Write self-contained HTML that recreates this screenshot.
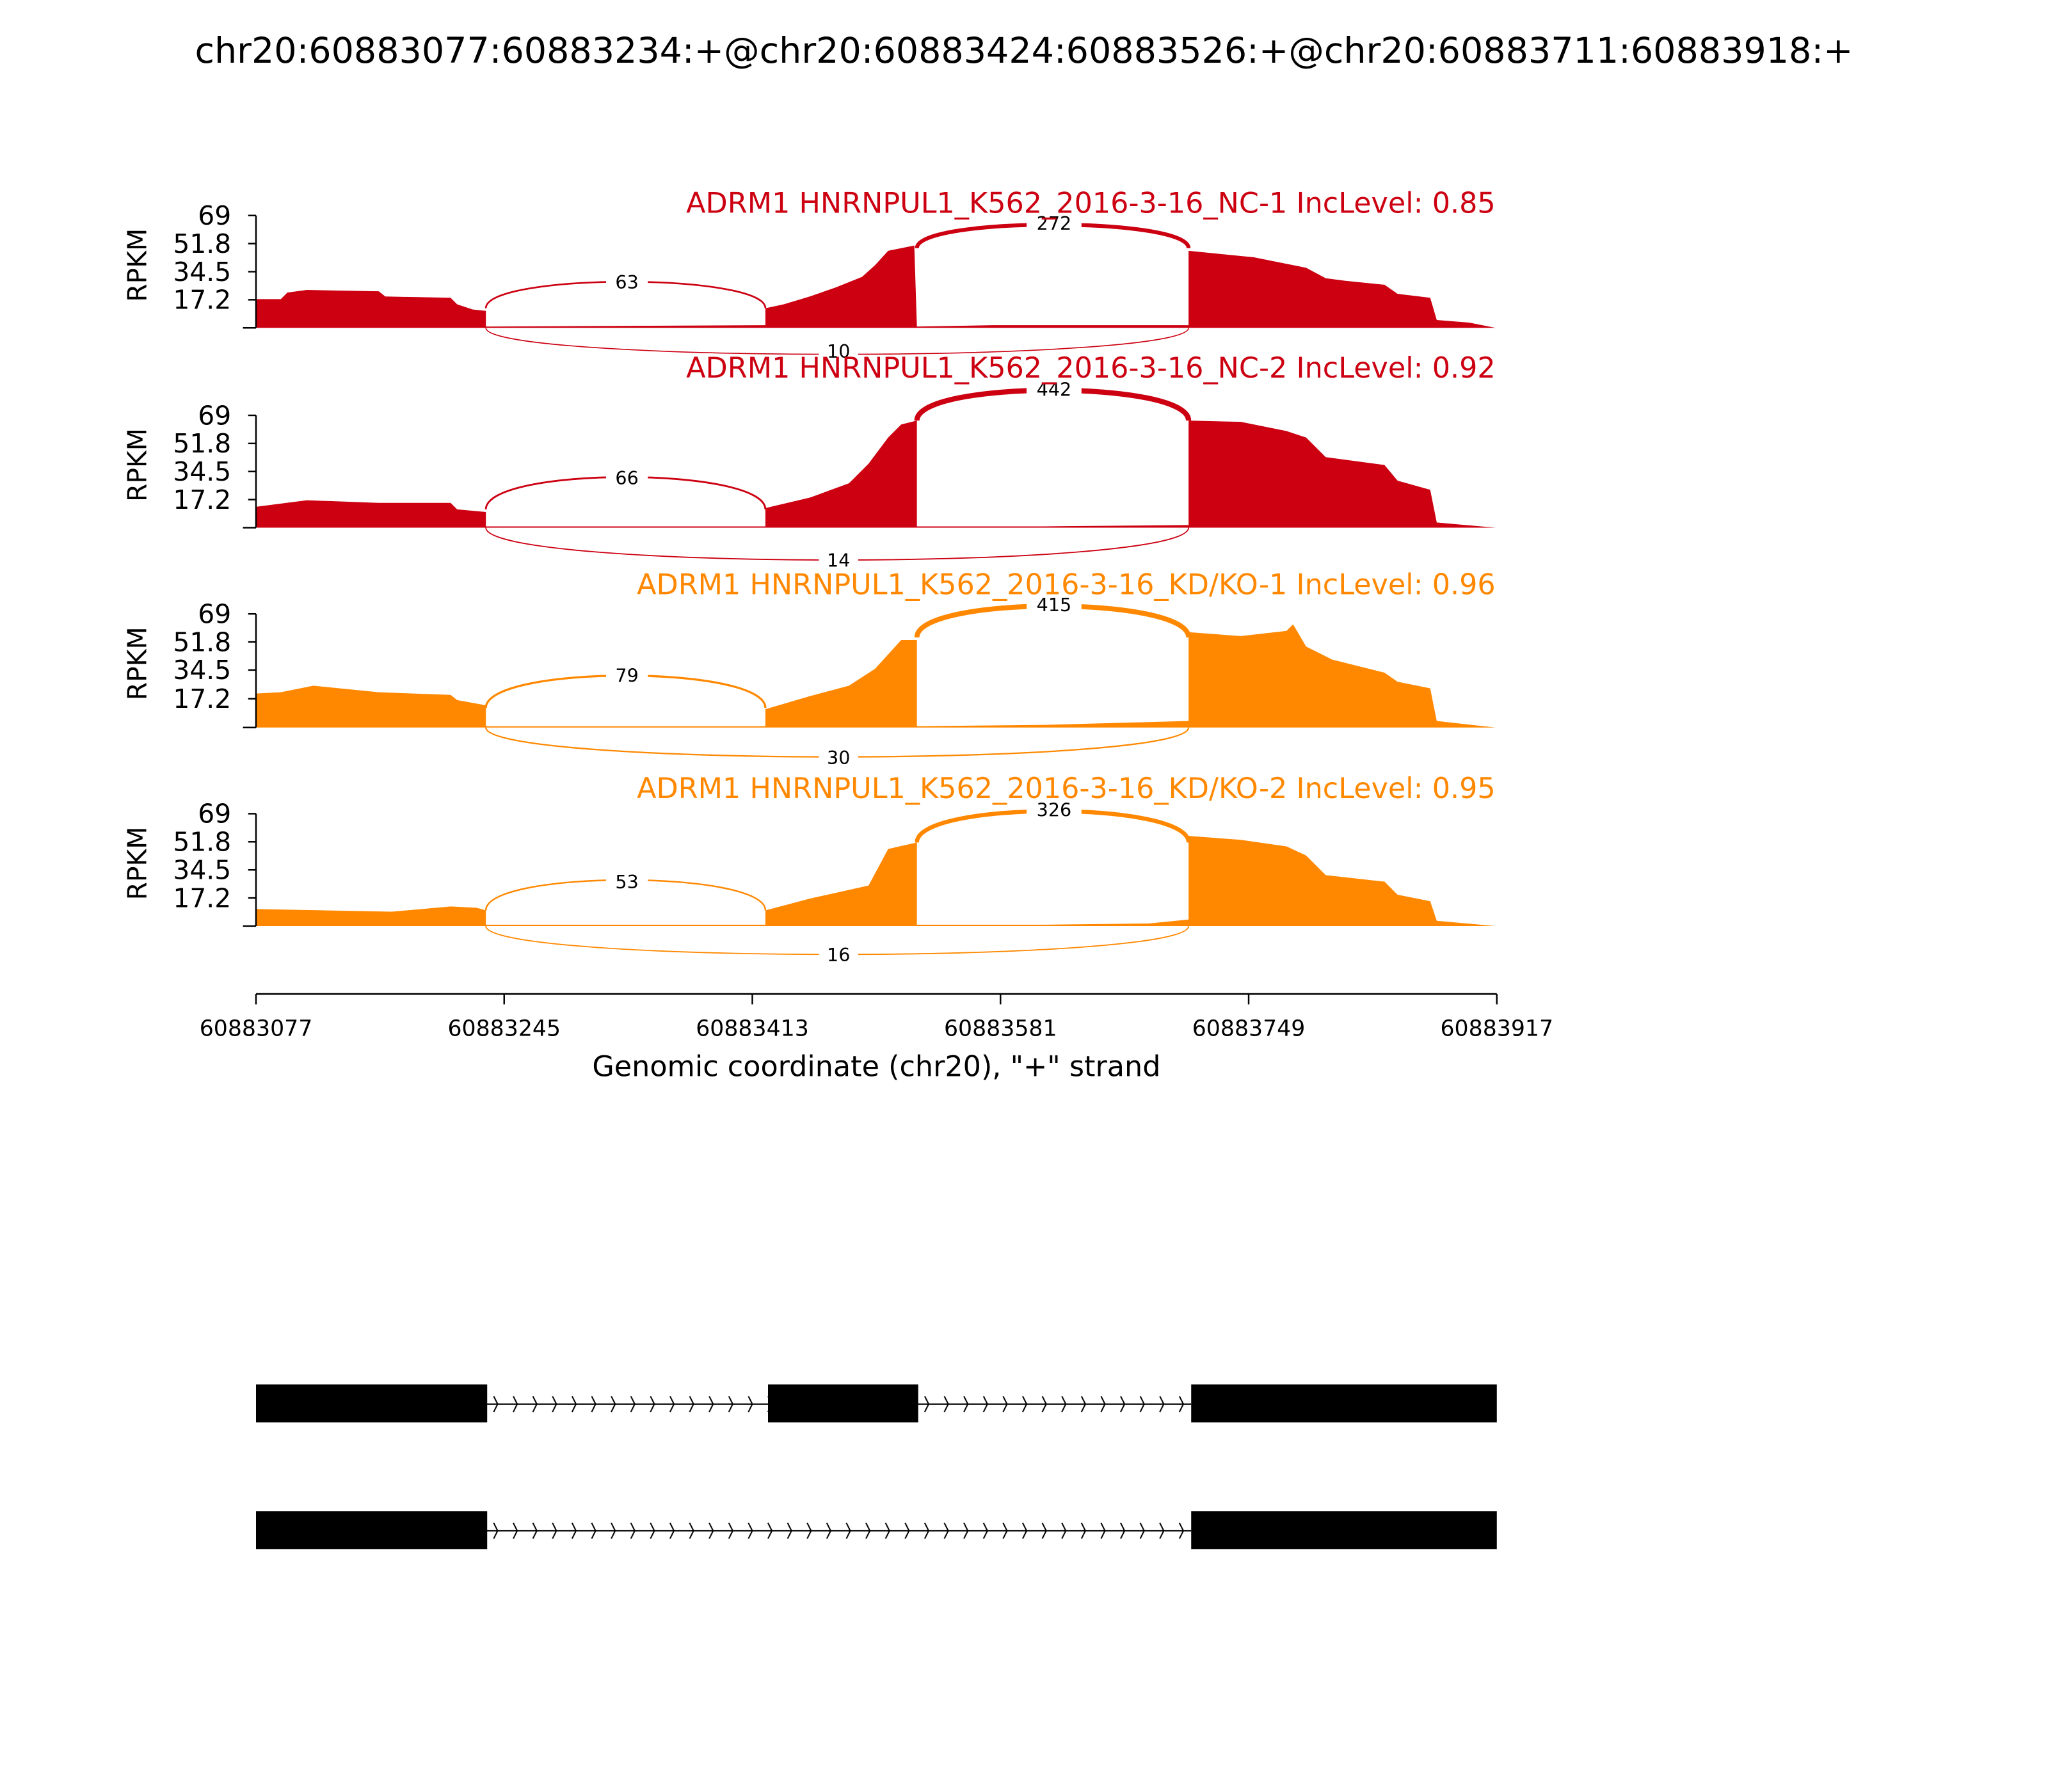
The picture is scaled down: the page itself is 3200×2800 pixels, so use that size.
<!DOCTYPE html>
<html><head><meta charset="utf-8"><style>
html,body{margin:0;padding:0;background:#fff}
svg{display:block}
text{font-family:"DejaVu Sans","Liberation Sans",sans-serif}
</style></head><body>
<svg width="3200" height="2800" viewBox="0 0 1568 1372" xmlns="http://www.w3.org/2000/svg">
<defs>
<pattern id="chev" x="372" y="1065" width="15" height="20" patternUnits="userSpaceOnUse">
<polyline points="6,4 9,10 6,16" fill="none" stroke="#000" stroke-width="1"/>
</pattern>
<pattern id="chev2" x="372" y="1162" width="15" height="20" patternUnits="userSpaceOnUse">
<polyline points="6,4 9,10 6,16" fill="none" stroke="#000" stroke-width="1"/>
</pattern>
</defs>
<rect width="1568" height="1372" fill="#fff"/>
<text x="784" y="48" font-size="27.2" text-anchor="middle">chr20:60883077:60883234:+@chr20:60883424:60883526:+@chr20:60883711:60883918:+</text>

<!-- Panel 1 -->
<g>
<polygon fill="#CC0011" points="196,251 196,229 215,229 220,224 235,222 290,223 295,227 345,228 350,233 362,237 372,238 372,250 586,249 586,236 600,233 620,227 640,220 660,212 670,203 680,192 690,190 700,188 702,250 760,249 800,249 910,249 910,192 940,195 960,197 985,202 1000,205 1015,213 1030,215 1060,218 1070,225 1095,228 1100,245 1125,247 1145,251"/>
<path d="M372,236 C372,209 586,209 586,236" fill="none" stroke="#CC0011" stroke-width="1.3"/>
<rect x="464" y="207" width="32" height="18" fill="#fff"/><text x="480" y="221" font-size="14" text-anchor="middle">63</text>
<path d="M702,190 C702,166 910,166 910,190" fill="none" stroke="#CC0011" stroke-width="3"/>
<rect x="786" y="162" width="42" height="18" fill="#fff"/><text x="807" y="176" font-size="14" text-anchor="middle">272</text>
<path d="M372,251 C372,278 910,278 910,251" fill="none" stroke="#CC0011" stroke-width="0.8"/>
<rect x="627" y="261" width="30" height="17" fill="#fff"/><text x="642" y="274" font-size="14" text-anchor="middle">10</text>
<text x="1145" y="163" font-size="21.8" fill="#CC0011" text-anchor="end">ADRM1 HNRNPUL1_K562_2016-3-16_NC-1 IncLevel: 0.85</text>
<line x1="196" y1="165" x2="196" y2="251" stroke="#000" stroke-width="1.2"/>
<g stroke="#000" stroke-width="1.2"><line x1="190" y1="165" x2="196" y2="165"/><line x1="190" y1="186.5" x2="196" y2="186.5"/><line x1="190" y1="208" x2="196" y2="208"/><line x1="190" y1="229.5" x2="196" y2="229.5"/><line x1="186" y1="251" x2="196" y2="251"/></g>
<g font-size="20" text-anchor="end"><text x="177" y="172">69</text><text x="177" y="193.5">51.8</text><text x="177" y="215">34.5</text><text x="177" y="236.5">17.2</text></g>
<text transform="translate(112,203) rotate(-90)" font-size="20" text-anchor="middle">RPKM</text>
</g>

<!-- Panel 2 -->
<g>
<polygon fill="#CC0011" points="196,404 196,388 235,383 290,385 345,385 350,390 372,392 372,403 586,403 586,389 620,381 650,370 665,355 680,335 690,325 702,322 702,403 800,403 910,402 910,322 950,323 985,330 1000,335 1015,350 1060,356 1070,368 1095,375 1100,400 1145,404"/>
<path d="M372,390 C372,357 586,357 586,390" fill="none" stroke="#CC0011" stroke-width="1.4"/>
<rect x="464" y="357" width="32" height="18" fill="#fff"/><text x="480" y="371" font-size="14" text-anchor="middle">66</text>
<path d="M702,322 C702,291 910,291 910,322" fill="none" stroke="#CC0011" stroke-width="4"/>
<rect x="786" y="289" width="42" height="18" fill="#fff"/><text x="807" y="303" font-size="14" text-anchor="middle">442</text>
<path d="M372,404 C372,437 910,437 910,404" fill="none" stroke="#CC0011" stroke-width="0.9"/>
<rect x="627" y="421" width="30" height="17" fill="#fff"/><text x="642" y="434" font-size="14" text-anchor="middle">14</text>
<text x="1145" y="289" font-size="21.8" fill="#CC0011" text-anchor="end">ADRM1 HNRNPUL1_K562_2016-3-16_NC-2 IncLevel: 0.92</text>
<line x1="196" y1="318" x2="196" y2="404" stroke="#000" stroke-width="1.2"/>
<g stroke="#000" stroke-width="1.2"><line x1="190" y1="318" x2="196" y2="318"/><line x1="190" y1="339.5" x2="196" y2="339.5"/><line x1="190" y1="361" x2="196" y2="361"/><line x1="190" y1="382.5" x2="196" y2="382.5"/><line x1="186" y1="404" x2="196" y2="404"/></g>
<g font-size="20" text-anchor="end"><text x="177" y="325">69</text><text x="177" y="346.5">51.8</text><text x="177" y="368">34.5</text><text x="177" y="389.5">17.2</text></g>
<text transform="translate(112,356) rotate(-90)" font-size="20" text-anchor="middle">RPKM</text>
</g>

<!-- Panel 3 -->
<g>
<polygon fill="#FF8800" points="196,557 196,531 215,530 240,525 290,530 345,532 350,536 372,540 372,556 586,556 586,543 620,533 650,525 670,512 690,490 702,490 702,556 800,555 910,552 910,484 950,487 985,483 990,478 1000,495 1020,505 1060,515 1070,522 1095,527 1100,552 1145,557"/>
<path d="M372,542 C372,509 586,509 586,542" fill="none" stroke="#FF8800" stroke-width="1.6"/>
<rect x="464" y="508" width="32" height="18" fill="#fff"/><text x="480" y="522" font-size="14" text-anchor="middle">79</text>
<path d="M702,488 C702,456 910,456 910,488" fill="none" stroke="#FF8800" stroke-width="3.8"/>
<rect x="786" y="454" width="42" height="18" fill="#fff"/><text x="807" y="468" font-size="14" text-anchor="middle">415</text>
<path d="M372,557 C372,587 910,587 910,557" fill="none" stroke="#FF8800" stroke-width="1.1"/>
<rect x="627" y="572" width="30" height="17" fill="#fff"/><text x="642" y="585" font-size="14" text-anchor="middle">30</text>
<text x="1145" y="455" font-size="21.8" fill="#FF8800" text-anchor="end">ADRM1 HNRNPUL1_K562_2016-3-16_KD/KO-1 IncLevel: 0.96</text>
<line x1="196" y1="470" x2="196" y2="557" stroke="#000" stroke-width="1.2"/>
<g stroke="#000" stroke-width="1.2"><line x1="190" y1="470" x2="196" y2="470"/><line x1="190" y1="491.5" x2="196" y2="491.5"/><line x1="190" y1="513" x2="196" y2="513"/><line x1="190" y1="535" x2="196" y2="535"/><line x1="186" y1="557" x2="196" y2="557"/></g>
<g font-size="20" text-anchor="end"><text x="177" y="477">69</text><text x="177" y="498.5">51.8</text><text x="177" y="520">34.5</text><text x="177" y="542">17.2</text></g>
<text transform="translate(112,508) rotate(-90)" font-size="20" text-anchor="middle">RPKM</text>
</g>

<!-- Panel 4 -->
<g>
<polygon fill="#FF8800" points="196,709 196,696 300,698 345,694 365,695 372,697 372,708 586,708 586,697 620,688 665,678 680,650 702,645 702,708 800,708 880,707 910,704 910,640 950,643 985,648 1000,655 1015,670 1060,675 1070,685 1095,690 1100,705 1145,709"/>
<path d="M372,697 C372,666 586,666 586,697" fill="none" stroke="#FF8800" stroke-width="1.2"/>
<rect x="464" y="666" width="32" height="18" fill="#fff"/><text x="480" y="680" font-size="14" text-anchor="middle">53</text>
<path d="M702,645 C702,613 910,613 910,645" fill="none" stroke="#FF8800" stroke-width="3.2"/>
<rect x="786" y="611" width="42" height="18" fill="#fff"/><text x="807" y="625" font-size="14" text-anchor="middle">326</text>
<path d="M372,709 C372,738 910,738 910,709" fill="none" stroke="#FF8800" stroke-width="0.9"/>
<rect x="627" y="723" width="30" height="17" fill="#fff"/><text x="642" y="736" font-size="14" text-anchor="middle">16</text>
<text x="1145" y="611" font-size="21.8" fill="#FF8800" text-anchor="end">ADRM1 HNRNPUL1_K562_2016-3-16_KD/KO-2 IncLevel: 0.95</text>
<line x1="196" y1="623" x2="196" y2="709" stroke="#000" stroke-width="1.2"/>
<g stroke="#000" stroke-width="1.2"><line x1="190" y1="623" x2="196" y2="623"/><line x1="190" y1="644.5" x2="196" y2="644.5"/><line x1="190" y1="666" x2="196" y2="666"/><line x1="190" y1="687.5" x2="196" y2="687.5"/><line x1="186" y1="709" x2="196" y2="709"/></g>
<g font-size="20" text-anchor="end"><text x="177" y="630">69</text><text x="177" y="651.5">51.8</text><text x="177" y="673">34.5</text><text x="177" y="694.5">17.2</text></g>
<text transform="translate(112,661) rotate(-90)" font-size="20" text-anchor="middle">RPKM</text>
</g>

<!-- X axis -->
<line x1="196" y1="761" x2="1146" y2="761" stroke="#000" stroke-width="1.3"/>
<g stroke="#000" stroke-width="1.2">
<line x1="196" y1="761" x2="196" y2="769"/><line x1="386" y1="761" x2="386" y2="769"/><line x1="576" y1="761" x2="576" y2="769"/><line x1="766" y1="761" x2="766" y2="769"/><line x1="956" y1="761" x2="956" y2="769"/><line x1="1146" y1="761" x2="1146" y2="769"/>
</g>
<g font-size="17" text-anchor="middle">
<text x="196" y="793">60883077</text><text x="386" y="793">60883245</text><text x="576" y="793">60883413</text><text x="766" y="793">60883581</text><text x="956" y="793">60883749</text><text x="1146" y="793">60883917</text>
</g>
<text x="671" y="824" font-size="21.8" text-anchor="middle">Genomic coordinate (chr20), "+" strand</text>

<!-- Gene models -->
<line x1="372" y1="1075" x2="912" y2="1075" stroke="#000" stroke-width="1"/>
<rect x="372" y="1065" width="216" height="20" fill="url(#chev)"/>
<rect x="702" y="1065" width="210" height="20" fill="url(#chev)"/>
<rect x="196" y="1060" width="177" height="29" fill="#000"/>
<rect x="588" y="1060" width="115" height="29" fill="#000"/>
<rect x="912" y="1060" width="234" height="29" fill="#000"/>

<line x1="372" y1="1172" x2="912" y2="1172" stroke="#000" stroke-width="1"/>
<rect x="372" y="1162" width="540" height="20" fill="url(#chev2)"/>
<rect x="196" y="1157" width="177" height="29" fill="#000"/>
<rect x="912" y="1157" width="234" height="29" fill="#000"/>
</svg>
</body></html>
